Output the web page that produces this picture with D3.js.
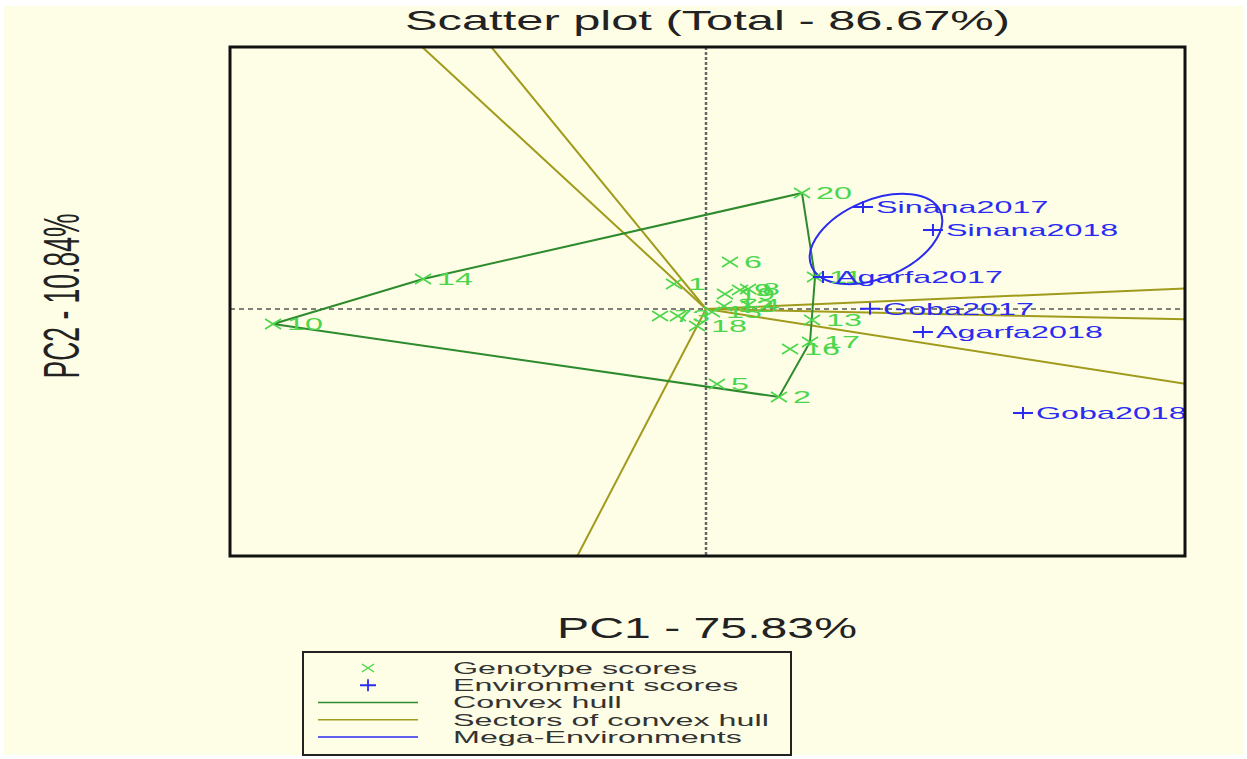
<!DOCTYPE html>
<html>
<head>
<meta charset="utf-8">
<script src="https://d3js.org/d3.v7.min.js"></script>
<style>
  body { margin: 0; background: #ffffff; }
  svg { display: block; font-family: "Liberation Sans", Arial, sans-serif; }
</style>
</head>
<body>
<div id="graph"></div>
<script>
// genotype scores (PC1, PC2)
var genotypes = ["1","2","3","4","5","6","7","8","9","10","11","12","13","14","15","16","17","18","19","20"];
var genoPC1 = [-0.268, 0.611, -0.235, 0.352, 0.092, 0.201, -0.385, 0.352, 0.285, -3.626, 0.913, 0.151, 0.888, -2.370, 0.050, 0.704, 0.871, -0.075, 0.159, 0.804];
var genoPC2 = [0.398, -1.401, -0.111, 0.064, -1.194, 0.748, -0.111, 0.318, 0.302, -0.239, 0.509, 0.048, -0.175, 0.477, -0.048, -0.637, -0.525, -0.271, 0.239, 1.846];

// environment scores (PC1, PC2)
var environments = ["Agarfa2017","Agarfa2018","Goba2017","Goba2018","Sinana2017","Sinana2018"];
var envPC1 = [0.980, 1.817, 1.374, 2.655, 1.315, 1.901];
var envPC2 = [0.509, -0.366, 0.003, -1.655, 1.623, 1.257];

// vertices of the convex hull, in order
var hullGenotypes = ["10","14","20","11","17","2"];
// environments grouped in the mega-environment
var megaEnv = ["Sinana2017","Sinana2018","Agarfa2017"];

var legendLabels = ["Genotype scores","Environment scores","Convex hull","Sectors of convex hull","Mega-Environments"];

var colGeno = "#4cd64c", colEnv = "#2b2bf0", colHull = "#2d8a2d", colSector = "#a09b1c";
var stretch = 1.9;

// set the dimensions of the plot box
var W = 1247, H = 759;
var box = {left: 230, right: 1185, top: 47, bottom: 556};

var x = d3.scaleLinear().domain([-3.987, 4.012]).range([box.left, box.right]);
var y = d3.scaleLinear().domain([-3.931, 4.17]).range([box.bottom, box.top]);

var svg = d3.select("#graph")
  .append("svg")
  .attr("width", W)
  .attr("height", H);

svg.append("rect")
  .attr("x", 4).attr("y", 6)
  .attr("width", W - 8).attr("height", H - 10)
  .attr("fill", "#fefee6");

svg.append("clipPath").attr("id", "plotclip")
  .append("rect")
  .attr("x", box.left).attr("y", box.top)
  .attr("width", box.right - box.left).attr("height", box.bottom - box.top);

// helper for stretched text
function stretchedText(g, px, py, txt, size, color, anchor) {
  return g.append("text")
    .attr("transform", "translate(" + px + "," + py + ") scale(" + stretch + ",1)")
    .attr("text-anchor", anchor || "start")
    .attr("dy", "0.35em")
    .style("font-size", size + "px")
    .attr("fill", color)
    .text(txt);
}

// title and axis labels
svg.append("text")
  .attr("x", 405).attr("y", 30)
  .attr("textLength", 605)
  .attr("lengthAdjust", "spacingAndGlyphs")
  .style("font-size", "28px")
  .attr("fill", "#222")
  .text("Scatter plot (Total - 86.67%)");

svg.append("text")
  .attr("x", 557).attr("y", 638)
  .attr("textLength", 300)
  .attr("lengthAdjust", "spacingAndGlyphs")
  .style("font-size", "29px")
  .attr("fill", "#222")
  .text("PC1 - 75.83%");

svg.append("text")
  .attr("transform", "translate(79,296) scale(" + stretch + ",1) rotate(-90)")
  .attr("text-anchor", "middle")
  .style("font-size", "26.5px")
  .attr("fill", "#222")
  .text("PC2 - 10.84%");

// dashed axes through the origin
svg.append("line")
  .attr("x1", box.left).attr("x2", box.right)
  .attr("y1", y(0)).attr("y2", y(0))
  .attr("stroke", "#555").attr("stroke-width", 1.6)
  .style("stroke-dasharray", "5,4");
svg.append("line")
  .attr("x1", x(0)).attr("x2", x(0))
  .attr("y1", box.top).attr("y2", box.bottom)
  .attr("stroke", "#666").attr("stroke-width", 2.5)
  .style("stroke-dasharray", "3,2");

// build point lookups
var genoPts = genotypes.map(function(g, i) { return {name: g, pc1: genoPC1[i], pc2: genoPC2[i]}; });
var envPts = environments.map(function(e, i) { return {name: e, pc1: envPC1[i], pc2: envPC2[i]}; });
var hull = hullGenotypes.map(function(g) { return genoPts[genotypes.indexOf(g)]; });

// sectors: perpendicular from origin to each hull edge, extended to the box
var sectors = svg.append("g").attr("clip-path", "url(#plotclip)");
hull.forEach(function(p, i) {
  var q = hull[(i + 1) % hull.length];
  var dx = q.pc1 - p.pc1, dy = q.pc2 - p.pc2;
  var t = -(p.pc1 * dx + p.pc2 * dy) / (dx * dx + dy * dy);
  var fx = p.pc1 + t * dx, fy = p.pc2 + t * dy;
  var len = Math.sqrt(fx * fx + fy * fy);
  var k = 20 / len;
  sectors.append("line")
    .attr("x1", x(0)).attr("y1", y(0))
    .attr("x2", x(fx * k)).attr("y2", y(fy * k))
    .attr("stroke", colSector)
    .attr("stroke-width", 2);
});

// convex hull
svg.append("path")
  .datum(hull)
  .attr("fill", "none")
  .attr("stroke", colHull)
  .attr("stroke-width", 2)
  .attr("d", d3.line()
    .x(function(d) { return x(d.pc1); })
    .y(function(d) { return y(d.pc2); })
    .curve(d3.curveLinearClosed));

// mega-environment ellipse, centred on its environments
var mega = megaEnv.map(function(e) { return envPts[environments.indexOf(e)]; });
var cx = d3.mean(mega, function(d) { return x(d.pc1); });
var cy = d3.mean(mega, function(d) { return y(d.pc2); });
svg.append("ellipse")
  .attr("transform", "translate(" + (cx + 3) + "," + (cy + 1) + ") rotate(-23)")
  .attr("rx", 70)
  .attr("ry", 39)
  .attr("fill", "none")
  .attr("stroke", colEnv)
  .attr("stroke-width", 2);

// genotype markers and labels
var gG = svg.append("g");
genoPts.forEach(function(d) {
  var px = x(d.pc1), py = y(d.pc2);
  gG.append("path")
    .attr("d", "M" + (px - 8) + "," + (py - 5) + "L" + (px + 8) + "," + (py + 5) +
               "M" + (px - 8) + "," + (py + 5) + "L" + (px + 8) + "," + (py - 5))
    .attr("stroke", colGeno)
    .attr("stroke-width", 1.6);
  stretchedText(gG, px + 14, py, d.name, 17, colGeno);
});

// environment markers and labels
var gE = svg.append("g");
envPts.forEach(function(d) {
  var px = x(d.pc1), py = y(d.pc2);
  gE.append("path")
    .attr("d", "M" + (px - 10) + "," + py + "L" + (px + 10) + "," + py +
               "M" + px + "," + (py - 6) + "L" + px + "," + (py + 6))
    .attr("stroke", colEnv)
    .attr("stroke-width", 2);
  stretchedText(gE, px + 13, py, d.name, 17, colEnv);
});

// plot box border
svg.append("rect")
  .attr("x", box.left).attr("y", box.top)
  .attr("width", box.right - box.left).attr("height", box.bottom - box.top)
  .attr("fill", "none")
  .attr("stroke", "#111")
  .attr("stroke-width", 3);

// legend
var legend = svg.append("g");
legend.append("rect")
  .attr("x", 303).attr("y", 652)
  .attr("width", 488).attr("height", 103)
  .attr("fill", "none")
  .attr("stroke", "#222")
  .attr("stroke-width", 2);

var rowY = d3.scalePoint().domain(legendLabels).range([668, 737]);
legendLabels.forEach(function(lab, i) {
  var ly = rowY(lab);
  if (i == 0) {
    legend.append("path")
      .attr("d", "M362," + (ly - 4) + "L374," + (ly + 4) + "M362," + (ly + 4) + "L374," + (ly - 4))
      .attr("stroke", colGeno).attr("stroke-width", 1.5);
  } else if (i == 1) {
    legend.append("path")
      .attr("d", "M360," + ly + "L376," + ly + "M368," + (ly - 6) + "L368," + (ly + 6))
      .attr("stroke", colEnv).attr("stroke-width", 1.8);
  } else {
    legend.append("line")
      .attr("x1", 318).attr("x2", 418)
      .attr("y1", ly).attr("y2", ly)
      .attr("stroke", [colHull, colSector, colEnv][i - 2])
      .attr("stroke-width", 1.5);
  }
  stretchedText(legend, 453, ly, lab, 17, "#333");
});
</script>
</body>
</html>
